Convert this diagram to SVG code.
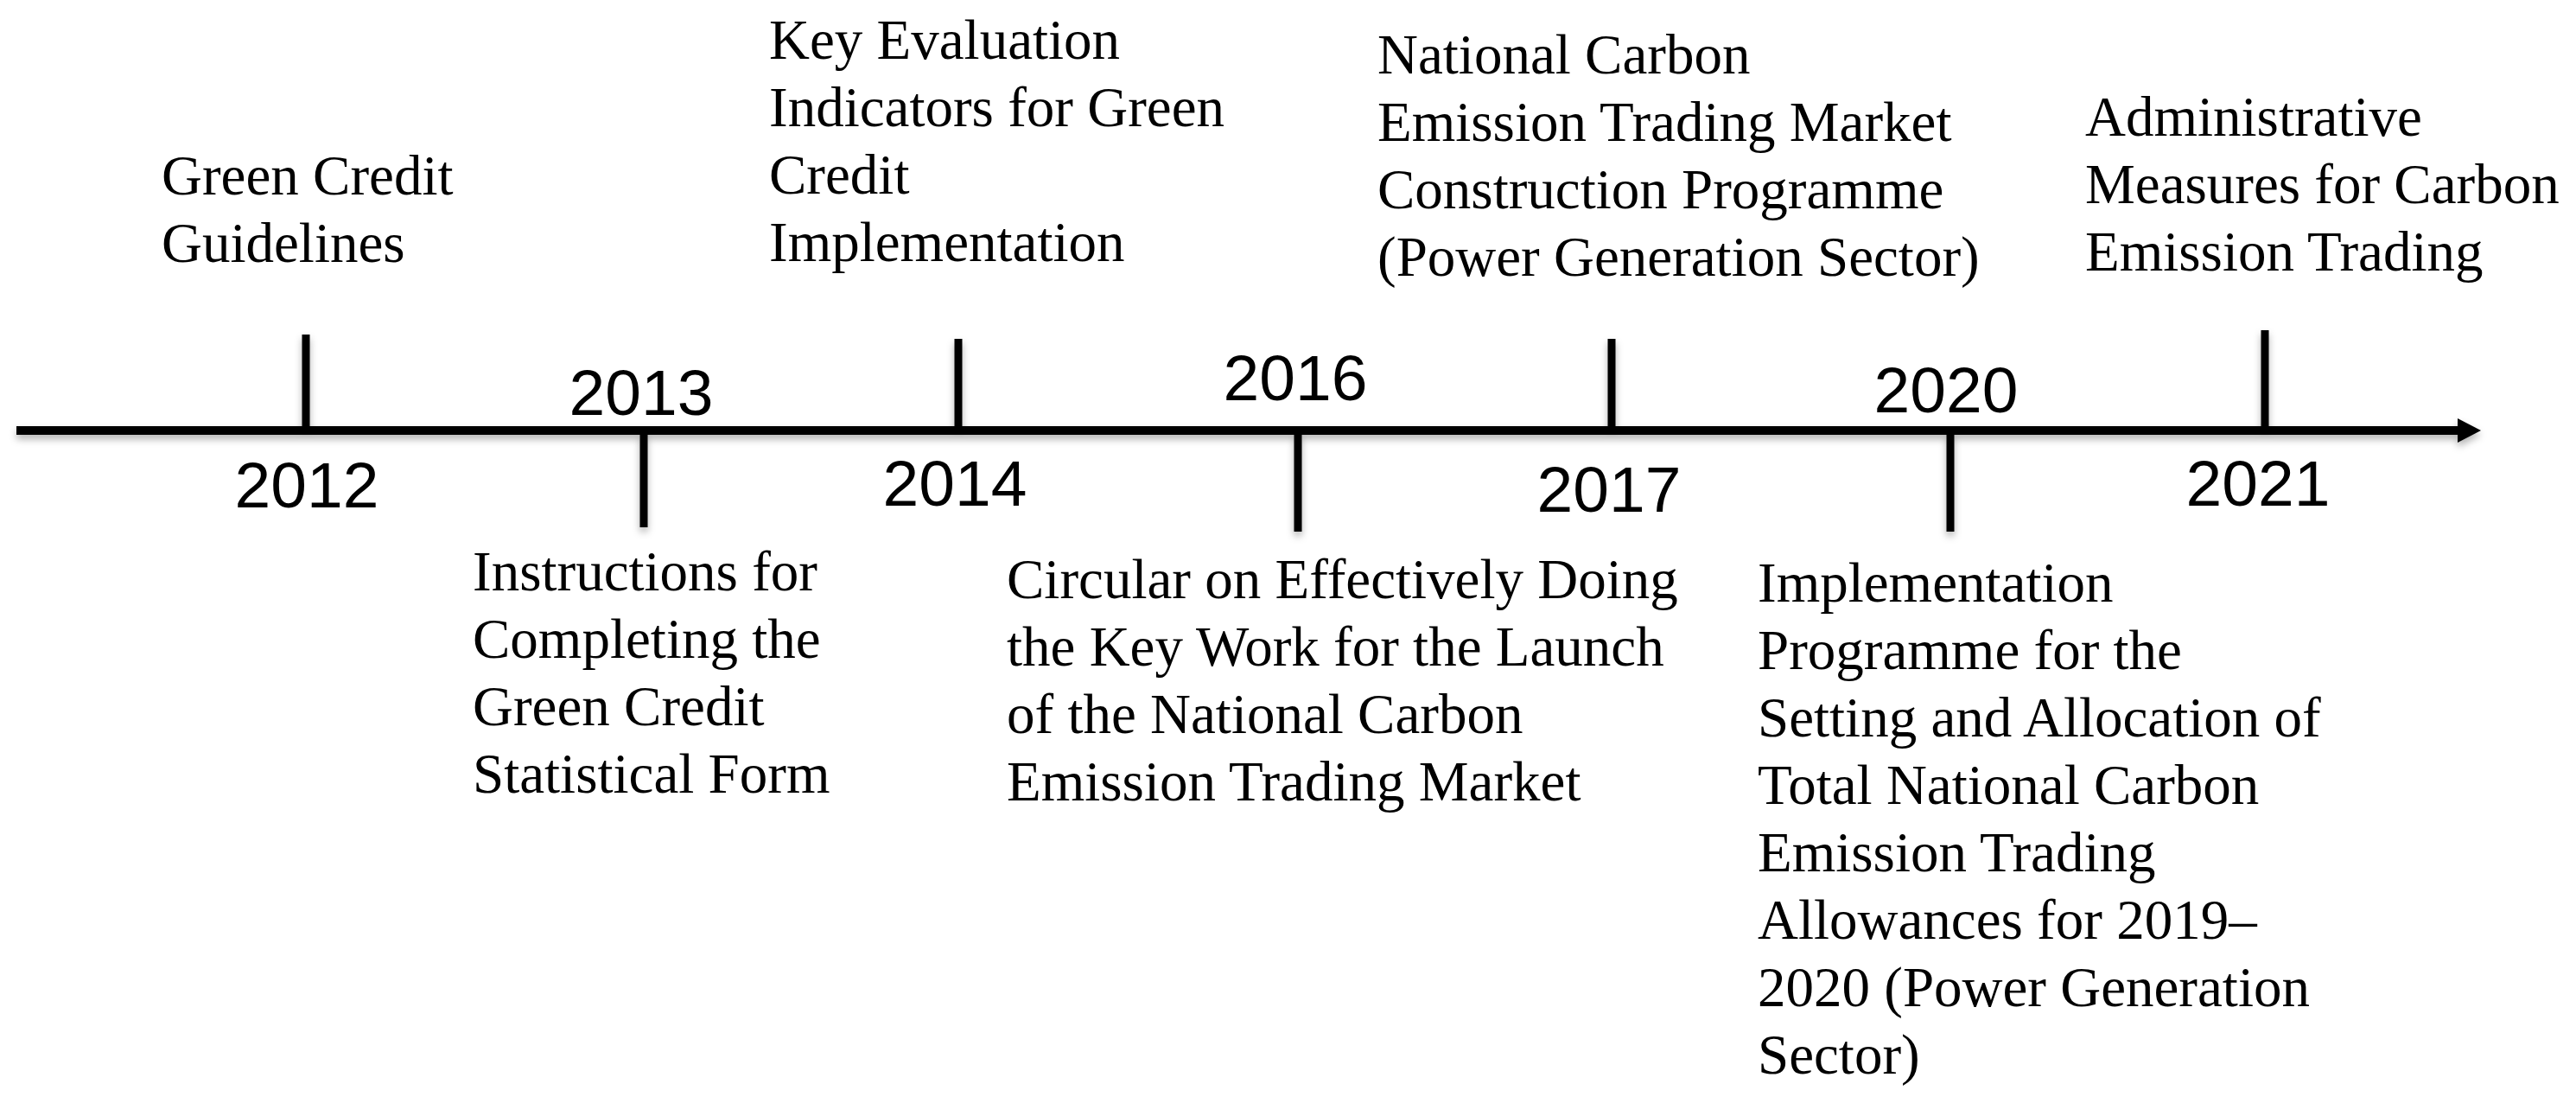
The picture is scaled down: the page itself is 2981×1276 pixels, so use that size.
<svg xmlns="http://www.w3.org/2000/svg" width="2981" height="1276" viewBox="0 0 2981 1276">
<style>
.yr{font-family:"Liberation Sans",Arial,sans-serif;font-size:75px;fill:#000;text-anchor:middle}
.lb{font-family:"Liberation Serif","Times New Roman",serif;font-size:65px;fill:#000}
.ln{stroke:#000;fill:none}
</style>
<defs>
<filter id="sh" x="-5%" y="-50%" width="110%" height="200%">
<feDropShadow dx="0" dy="5" stdDeviation="4" flood-color="#000" flood-opacity="0.3"/>
</filter>
</defs>
<rect width="2981" height="1276" fill="#fff"/>
<g id="connectors" filter="url(#sh)">
<line class="ln" x1="19" y1="498" x2="2850" y2="498" stroke-width="10"/>
<polygon points="2844,484 2871,498 2844,512" fill="#000"/>
<line class="ln" x1="354" y1="387" x2="354" y2="498" stroke-width="9"/>
<line class="ln" x1="745" y1="498" x2="745" y2="610" stroke-width="9"/>
<line class="ln" x1="1109" y1="392" x2="1109" y2="498" stroke-width="9"/>
<line class="ln" x1="1502" y1="498" x2="1502" y2="615" stroke-width="9"/>
<line class="ln" x1="1865" y1="392" x2="1865" y2="498" stroke-width="9"/>
<line class="ln" x1="2257" y1="498" x2="2257" y2="615" stroke-width="9"/>
<line class="ln" x1="2621" y1="382" x2="2621" y2="498" stroke-width="9"/>
</g>
<g id="n2012">
<text class="yr" x="355" y="587">2012</text>
<text class="lb" x="187"><tspan x="187" y="225">Green Credit</tspan><tspan x="187" y="303">Guidelines</tspan></text>
</g>
<g id="n2013">
<text class="yr" x="742" y="480">2013</text>
<text class="lb"><tspan x="547" y="683">Instructions for</tspan><tspan x="547" y="761">Completing the</tspan><tspan x="547" y="839">Green Credit</tspan><tspan x="547" y="917">Statistical Form</tspan></text>
</g>
<g id="n2014">
<text class="yr" x="1105" y="585">2014</text>
<text class="lb"><tspan x="890" y="68">Key Evaluation</tspan><tspan x="890" y="146">Indicators for Green</tspan><tspan x="890" y="224">Credit</tspan><tspan x="890" y="302">Implementation</tspan></text>
</g>
<g id="n2016">
<text class="yr" x="1499" y="463">2016</text>
<text class="lb"><tspan x="1165" y="692">Circular on Effectively Doing</tspan><tspan x="1165" y="770">the Key Work for the Launch</tspan><tspan x="1165" y="848">of the National Carbon</tspan><tspan x="1165" y="926">Emission Trading Market</tspan></text>
</g>
<g id="n2017">
<text class="yr" x="1862" y="592">2017</text>
<text class="lb"><tspan x="1594" y="85">National Carbon</tspan><tspan x="1594" y="163">Emission Trading Market</tspan><tspan x="1594" y="241">Construction Programme</tspan><tspan x="1594" y="319">(Power Generation Sector)</tspan></text>
</g>
<g id="n2020">
<text class="yr" x="2252" y="477">2020</text>
<text class="lb"><tspan x="2034" y="696">Implementation</tspan><tspan x="2034" y="774">Programme for the</tspan><tspan x="2034" y="852">Setting and Allocation of</tspan><tspan x="2034" y="930">Total National Carbon</tspan><tspan x="2034" y="1008">Emission Trading</tspan><tspan x="2034" y="1086">Allowances for 2019–</tspan><tspan x="2034" y="1164">2020 (Power Generation</tspan><tspan x="2034" y="1242">Sector)</tspan></text>
</g>
<g id="n2021">
<text class="yr" x="2613" y="585">2021</text>
<text class="lb"><tspan x="2413" y="157">Administrative</tspan><tspan x="2413" y="235">Measures for Carbon</tspan><tspan x="2413" y="313">Emission Trading</tspan></text>
</g>
</svg>
